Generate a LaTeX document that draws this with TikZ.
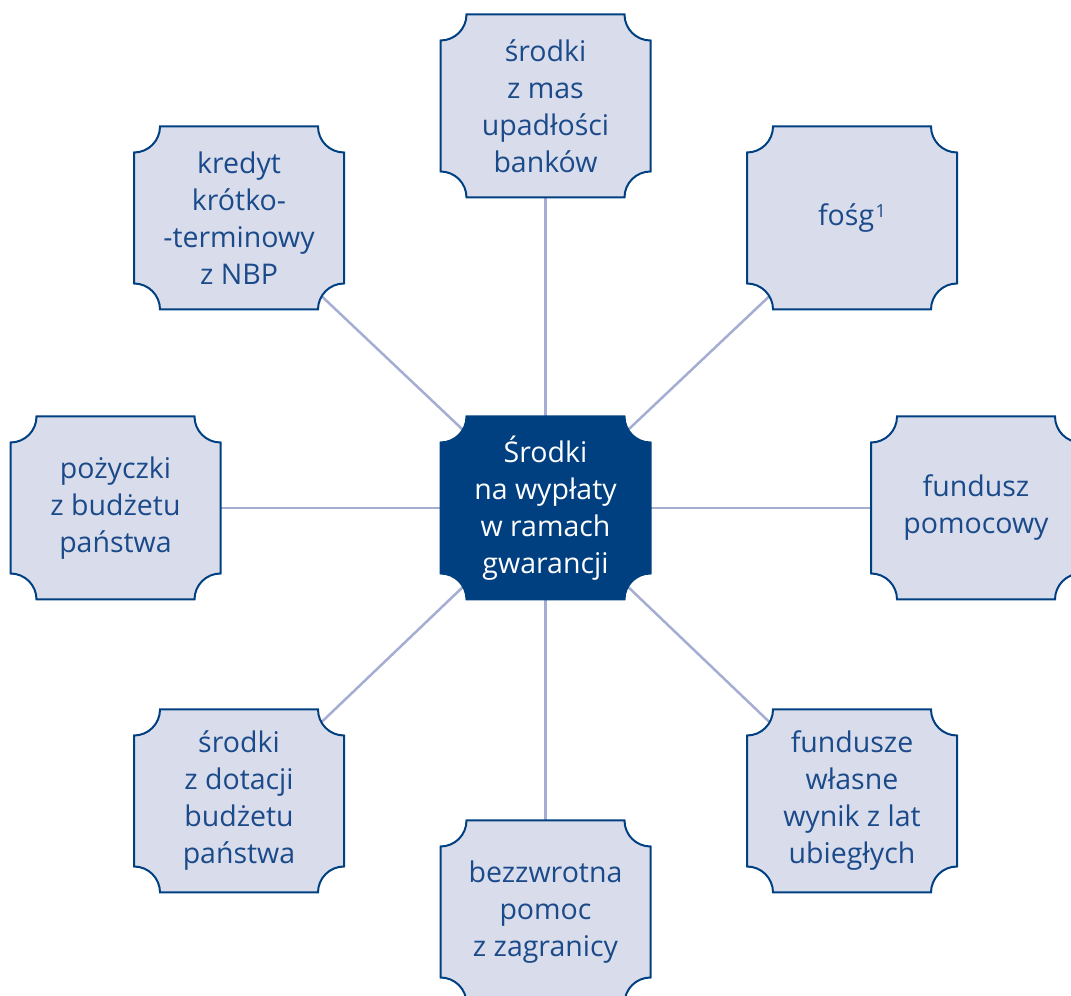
\documentclass[tikz,border=0pt]{standalone}
\usepackage{fontspec}
\setmainfont{Open Sans}
\usetikzlibrary{backgrounds}
\definecolor{navy}{HTML}{004080}
\definecolor{pale}{HTML}{D9DDEB}
\definecolor{link}{HTML}{A5AED2}
\definecolor{ink}{HTML}{1B4A8A}
% #1 name, #2 x, #3 y, #4 box style, #5 text style, #6 text
\newcommand\notchbox[6]{%
  \path[#4] ({#2-79},{#3+91.5}) -- ({#2+79},{#3+91.5})
    arc[start angle=180,end angle=270,radius=26] -- ({#2+105},{#3-65.5})
    arc[start angle=90,end angle=180,radius=26] -- ({#2-79},{#3-91.5})
    arc[start angle=0,end angle=90,radius=26] -- ({#2-105},{#3+65.5})
    arc[start angle=270,end angle=360,radius=26] -- cycle;
  \node[#5] (#1) at (#2,#3) {#6};
}
\begin{document}
\begin{tikzpicture}[x=1pt,y=1pt,
  outerbox/.style={fill=pale,draw=navy,line width=2pt},
  hubbox/.style={fill=navy,draw=navy,line width=2pt},
  lbl/.style={align=center,font=\fontsize{28.5}{37}\selectfont,text=ink,inner sep=0pt},
  hublbl/.style={lbl,text=white},
  spoke/.style={draw=link,line width=2.5pt}]
\useasboundingbox (0,0) rectangle (1071,996);
\clip (0,0) rectangle (1071,996);
\notchbox{hub}{545.5}{488}{hubbox}{hublbl}{Środki\\na wypłaty\\w ramach\\gwarancji}
\notchbox{top}{545.5}{890}{outerbox}{lbl}{środki\\z mas\\upadłości\\banków}
\notchbox{bottom}{545.5}{84}{outerbox}{lbl}{bezzwrotna\\pomoc\\z zagranicy}
\notchbox{left}{115.5}{488}{outerbox}{lbl}{pożyczki\\z budżetu\\państwa}
\notchbox{right}{976}{488}{outerbox}{lbl}{fundusz\\pomocowy}
\notchbox{nw}{239}{778}{outerbox}{lbl}{kredyt\\krótko-\\-terminowy\\z NBP}
\notchbox{ne}{852}{778}{outerbox}{lbl}{fośg\kern1.5pt\raisebox{7.5pt}{\fontsize{18}{18}\selectfont 1}}
\notchbox{sw}{239}{195}{outerbox}{lbl}{środki\\z dotacji\\budżetu\\państwa}
\notchbox{se}{852}{195}{outerbox}{lbl}{fundusze\\własne\\wynik z lat\\ubiegłych}
\begin{pgfonlayer}{background}
\draw[spoke] (hub.center) -- (top.center);
\draw[spoke] (hub.center) -- (bottom.center);
\draw[spoke] (hub.center) -- (left.center);
\draw[spoke] (hub.center) -- (right.center);
\draw[spoke] (hub.center) -- (nw.center);
\draw[spoke] (hub.center) -- (ne.center);
\draw[spoke] (hub.center) -- (sw.center);
\draw[spoke] (hub.center) -- (se.center);
\end{pgfonlayer}
\end{tikzpicture}
\end{document}
